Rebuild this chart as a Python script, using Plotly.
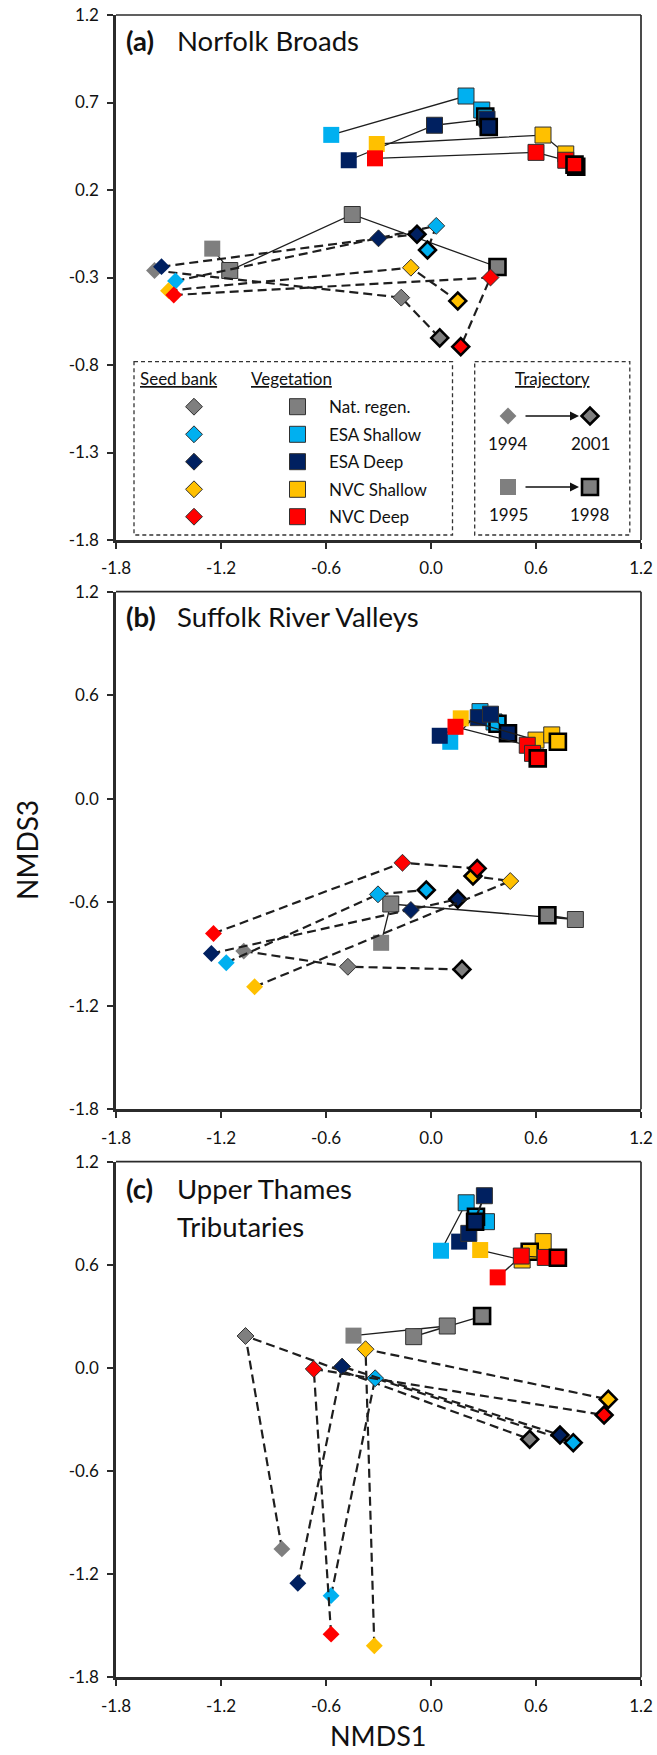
import plotly.graph_objects as go

W, H = 657, 1755

# ---------------------------------------------------------------- data
treatments = ["Nat. regen.", "ESA Shallow", "ESA Deep", "NVC Shallow", "NVC Deep"]

x_tick_vals = [-1.8, -1.2, -0.6, 0.0, 0.6, 1.2]
x_tick_text = ["-1.8", "-1.2", "-0.6", "0.0", "0.6", "1.2"]
y_tick_vals_a = [-1.8, -1.3, -0.8, -0.3, 0.2, 0.7, 1.2]
y_tick_text_a = ["-1.8", "-1.3", "-0.8", "-0.3", "0.2", "0.7", "1.2"]
y_tick_vals_bc = [-1.8, -1.2, -0.6, 0.0, 0.6, 1.2]
y_tick_text_bc = ["-1.8", "-1.2", "-0.6", "0.0", "0.6", "1.2"]

panel_tags = ["(a)", "(b)", "(c)"]
panel_names = [["Norfolk Broads"], ["Suffolk River Valleys"], ["Upper Thames", "Tributaries"]]

# (a) Norfolk Broads: vegetation 1995-1998, seed bank 1994-2001
nb_veg_x = [[-1.25, -1.15, -0.45, 0.38],
            [-0.57, 0.20, 0.29, 0.31],
            [-0.47, 0.02, 0.32, 0.33],
            [-0.31, 0.64, 0.77, 0.83],
            [-0.32, 0.60, 0.77, 0.82]]
nb_veg_y = [[-0.135, -0.26, 0.06, -0.24],
            [0.515, 0.737, 0.657, 0.62],
            [0.37, 0.57, 0.605, 0.56],
            [0.463, 0.514, 0.406, 0.333],
            [0.381, 0.415, 0.37, 0.345]]
nb_seed_x = [[-1.58, -0.17, 0.05],
             [-1.46, 0.03, -0.02],
             [-1.54, -0.30, -0.08],
             [-1.50, -0.115, 0.153],
             [-1.47, 0.34, 0.17]]
nb_seed_y = [[-0.26, -0.415, -0.645],
             [-0.32, -0.005, -0.143],
             [-0.238, -0.076, -0.053],
             [-0.375, -0.244, -0.434],
             [-0.40, -0.30, -0.695]]

# (b) Suffolk River Valleys
sr_veg_x = [[-0.285, -0.23, 0.825, 0.665],
            [0.11, 0.28, 0.36, 0.38],
            [0.05, 0.27, 0.34, 0.44],
            [0.17, 0.60, 0.69, 0.725],
            [0.14, 0.55, 0.58, 0.61]]
sr_veg_y = [[-0.835, -0.61, -0.70, -0.675],
            [0.33, 0.505, 0.445, 0.435],
            [0.365, 0.47, 0.49, 0.38],
            [0.466, 0.34, 0.37, 0.33],
            [0.417, 0.31, 0.263, 0.234]]
sr_seed_x = [[-1.07, -0.475, 0.177],
             [-1.17, -0.303, -0.027],
             [-1.255, -0.115, 0.153],
             [-1.008, 0.453, 0.24],
             [-1.243, -0.163, 0.264]]
sr_seed_y = [[-0.883, -0.974, -0.989],
             [-0.951, -0.554, -0.529],
             [-0.897, -0.645, -0.582],
             [-1.09, -0.477, -0.448],
             [-0.781, -0.371, -0.404]]

# (c) Upper Thames Tributaries
ut_veg_x = [[-0.443, 0.093, -0.099, 0.292],
            [0.057, 0.201, 0.317, 0.257],
            [0.161, 0.216, 0.305, 0.252],
            [0.281, 0.521, 0.641, 0.564],
            [0.381, 0.516, 0.653, 0.725]]
ut_veg_y = [[0.188, 0.244, 0.182, 0.302],
            [0.682, 0.961, 0.851, 0.88],
            [0.735, 0.783, 1.002, 0.851],
            [0.686, 0.628, 0.735, 0.676],
            [0.527, 0.651, 0.643, 0.641]]
ut_seed_x = [[-0.852, -1.06, 0.564],
             [-0.571, -0.319, 0.813],
             [-0.761, -0.508, 0.737],
             [-0.324, -0.374, 1.013],
             [-0.571, -0.670, 0.989]]
ut_seed_y = [[-1.053, 0.186, -0.415],
             [-1.325, -0.06, -0.435],
             [-1.253, 0.008, -0.39],
             [-1.616, 0.109, -0.183],
             [-1.549, -0.006, -0.274]]

traj_years = [["1994", "2001"], ["1995", "1998"]]

# ---------------------------------------------------------------- style
COLORS = ["#7F7F7F", "#00B0F0", "#002060", "#FFC000", "#FF0000"]
AX = "#2b2b2b"
FONT = "Lato"
TXT = "#111111"

PLOT_L, PLOT_R = 116.0, 641.0
PANELS_PX = [(15.0, 540.0), (591.7, 1109.3), (1161.7, 1677.3)]

SQ_SIZE = 16
DM_SIZE = 13

panel_data = [
    (nb_veg_x, nb_veg_y, nb_seed_x, nb_seed_y),
    (sr_veg_x, sr_veg_y, sr_seed_x, sr_seed_y),
    (ut_veg_x, ut_veg_y, ut_seed_x, ut_seed_y),
]


def border_style(n):
    """first point plain, intermediate points thin outline, last point heavy black outline"""
    widths = [0] + [1] * (n - 2) + [2.6]
    cols = ["rgba(0,0,0,0)"] + ["#303030"] * (n - 2) + ["#000000"]
    return widths, cols


fig = go.Figure()

for p, (vx, vy, sx, sy) in enumerate(panel_data):
    xr = "x" if p == 0 else f"x{p + 1}"
    yr = "y" if p == 0 else f"y{p + 1}"
    for i, name in enumerate(treatments):
        w, c = border_style(len(vx[i]))
        fig.add_trace(go.Scatter(
            x=vx[i], y=vy[i], xaxis=xr, yaxis=yr, mode="lines+markers",
            name=name + " vegetation", showlegend=False, cliponaxis=False,
            line=dict(color="#1e1e1e", width=1.3),
            marker=dict(symbol="square", size=SQ_SIZE, color=COLORS[i],
                        line=dict(width=w, color=c))))
    for i, name in enumerate(treatments):
        w, c = border_style(len(sx[i]))
        fig.add_trace(go.Scatter(
            x=sx[i], y=sy[i], xaxis=xr, yaxis=yr, mode="lines+markers",
            name=name + " seed bank", showlegend=False, cliponaxis=False,
            line=dict(color="#1e1e1e", width=2.2, dash="9px,5px"),
            marker=dict(symbol="diamond", size=DM_SIZE, color=COLORS[i],
                        line=dict(width=w, color=c))))

layout = dict(
    width=W, height=H, margin=dict(l=0, r=0, t=0, b=0),
    paper_bgcolor="white", plot_bgcolor="rgba(0,0,0,0)",
    showlegend=False, font=dict(family=FONT, color=TXT),
)

tick_font = dict(family=FONT, size=17, color=TXT)
for p, (top, bot) in enumerate(PANELS_PX):
    sx = "" if p == 0 else str(p + 1)
    yvals, ytext = (y_tick_vals_a, y_tick_text_a) if p == 0 else (y_tick_vals_bc, y_tick_text_bc)
    layout["xaxis" + sx] = dict(
        domain=[PLOT_L / W, PLOT_R / W], range=[-1.8, 1.2], anchor="y" + sx,
        tickvals=x_tick_vals, ticktext=x_tick_text, tickfont=tick_font,
        showline=True, linewidth=2.6, linecolor=AX, mirror=False,
        ticks="outside", ticklen=6, tickwidth=2, tickcolor=AX, ticklabelstandoff=5,
        showgrid=False, zeroline=False, automargin=False, fixedrange=True)
    layout["yaxis" + sx] = dict(
        domain=[1 - bot / H, 1 - top / H], range=[-1.8, 1.2], anchor="x" + sx,
        tickvals=yvals, ticktext=ytext, tickfont=tick_font,
        showline=True, linewidth=2.6, linecolor=AX, mirror=False,
        ticks="outside", ticklen=6, tickwidth=2, tickcolor=AX, ticklabelstandoff=5,
        showgrid=False, zeroline=False, automargin=False, fixedrange=True)

# pixel-space overlay used for panel captions and the key
layout["xaxis4"] = dict(domain=[0, 1], range=[0, W], anchor="y4", visible=False, fixedrange=True)
layout["yaxis4"] = dict(domain=[0, 1], range=[H, 0], anchor="x4", visible=False, fixedrange=True)
fig.update_layout(**layout)

shapes = []
annotations = []

# top and right frame edges
for p in range(3):
    sx = "" if p == 0 else str(p + 1)
    shapes.append(dict(type="line", xref=f"x{sx} domain", yref=f"y{sx} domain",
                       x0=0, x1=1, y0=1, y1=1, line=dict(color=AX, width=1.7)))
    shapes.append(dict(type="line", xref=f"x{sx} domain", yref=f"y{sx} domain",
                       x0=1, x1=1, y0=0, y1=1, line=dict(color=AX, width=1.7)))

# panel captions
cap_y = [40, 616.7, 1188]
cap_font = dict(family=FONT, size=27.5, color=TXT)
for p in range(3):
    annotations.append(dict(xref="x4", yref="y4", x=124, y=cap_y[p], xanchor="left", yanchor="middle",
                            text=f"<b>{panel_tags[p]}</b>", showarrow=False, font=cap_font))
    for k, line in enumerate(panel_names[p]):
        annotations.append(dict(xref="x4", yref="y4", x=175, y=cap_y[p] + 38.7 * k,
                                xanchor="left", yanchor="middle", text=line, showarrow=False,
                                font=cap_font))

# axis titles
annotations.append(dict(xref="x4", yref="y4", x=27, y=850, text="NMDS3", textangle=-90,
                        showarrow=False, font=dict(family=FONT, size=28, color=TXT)))
annotations.append(dict(xref="x4", yref="y4", x=(PLOT_L + PLOT_R) / 2, y=1754, yanchor="bottom",
                        text="NMDS1", showarrow=False, font=dict(family=FONT, size=27, color=TXT)))

# key boxes
dash_box = dict(color="#333333", width=1.3, dash="4px,3px")
shapes.append(dict(type="rect", xref="x4", yref="y4", x0=134, x1=452.5, y0=361.7, y1=535, line=dash_box))
shapes.append(dict(type="rect", xref="x4", yref="y4", x0=474.7, x1=629.8, y0=361.7, y1=535, line=dash_box))

key_font = dict(family=FONT, size=17, color=TXT)
ul = '<span style="text-decoration:underline">{}</span>'
annotations.append(dict(xref="x4", yref="y4", x=138, y=378, xanchor="left", yanchor="middle",
                        text=ul.format("Seed bank"), showarrow=False, font=key_font))
annotations.append(dict(xref="x4", yref="y4", x=249, y=378, xanchor="left", yanchor="middle",
                        text=ul.format("Vegetation"), showarrow=False, font=key_font))
annotations.append(dict(xref="x4", yref="y4", x=552, y=378, xanchor="center", yanchor="middle",
                        text=ul.format("Trajectory"), showarrow=False, font=key_font))

key_rows = [406.7, 434.3, 461.7, 489.3, 516.7]
fig.add_trace(go.Scatter(x=[194] * 5, y=key_rows, xaxis="x4", yaxis="y4", mode="markers",
                         showlegend=False, hoverinfo="skip", cliponaxis=False,
                         marker=dict(symbol="diamond", size=DM_SIZE, color=COLORS,
                                     line=dict(width=1, color="#303030"))))
fig.add_trace(go.Scatter(x=[297.5] * 5, y=key_rows, xaxis="x4", yaxis="y4", mode="markers",
                         showlegend=False, hoverinfo="skip", cliponaxis=False,
                         marker=dict(symbol="square", size=SQ_SIZE, color=COLORS,
                                     line=dict(width=1, color="#303030"))))
for name, yy in zip(treatments, key_rows):
    annotations.append(dict(xref="x4", yref="y4", x=327, y=yy, xanchor="left", yanchor="middle",
                            text=name, showarrow=False, font=key_font))

# trajectory key: start marker -> end marker
traj_rows = [416, 487]
traj_symbols = ["diamond", "square"]
traj_sizes = [DM_SIZE, SQ_SIZE]
for r, yy in enumerate(traj_rows):
    fig.add_trace(go.Scatter(x=[508, 590], y=[yy, yy], xaxis="x4", yaxis="y4", mode="markers",
                             showlegend=False, hoverinfo="skip", cliponaxis=False,
                             marker=dict(symbol=traj_symbols[r], size=traj_sizes[r], color=COLORS[0],
                                         line=dict(width=[0, 2.6], color=["rgba(0,0,0,0)", "#000"]))))
    annotations.append(dict(xref="x4", yref="y4", axref="x4", ayref="y4",
                            x=579, y=yy, ax=524, ay=yy, text="", showarrow=True,
                            arrowhead=2, arrowsize=1.2, arrowwidth=1.5, arrowcolor="#111"))
    for k, xx in enumerate([508, 590]):
        annotations.append(dict(xref="x4", yref="y4", x=xx, y=yy + 27, xanchor="center", yanchor="middle",
                                text=traj_years[r][k], showarrow=False, font=key_font))

fig.update_layout(shapes=shapes, annotations=annotations)
fig.write_html("out.html")
